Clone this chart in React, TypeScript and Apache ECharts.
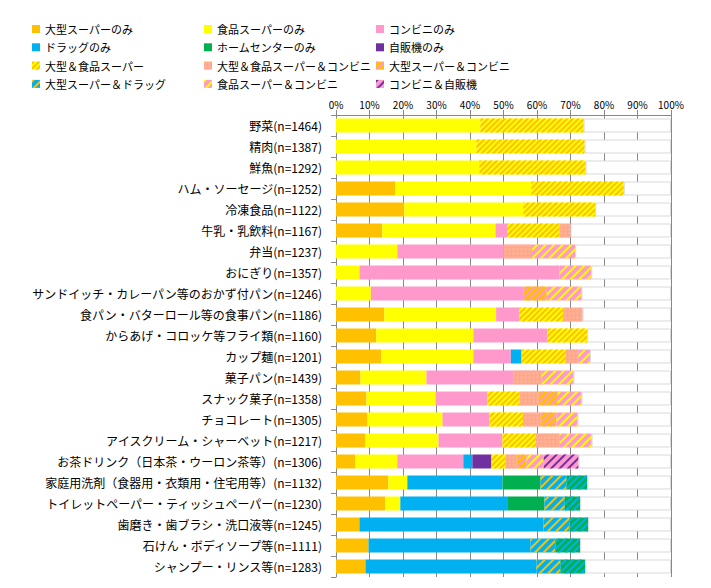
import React, { useEffect, useRef } from "react";
import * as echarts from "echarts";

const categories = [
  "野菜(n=1464)",
  "精肉(n=1387)",
  "鮮魚(n=1292)",
  "ハム・ソーセージ(n=1252)",
  "冷凍食品(n=1122)",
  "牛乳・乳飲料(n=1167)",
  "弁当(n=1237)",
  "おにぎり(n=1357)",
  "サンドイッチ・カレーパン等のおかず付パン(n=1246)",
  "食パン・バターロール等の食事パン(n=1186)",
  "からあげ・コロッケ等フライ類(n=1160)",
  "カップ麺(n=1201)",
  "菓子パン(n=1439)",
  "スナック菓子(n=1358)",
  "チョコレート(n=1305)",
  "アイスクリーム・シャーベット(n=1217)",
  "お茶ドリンク（日本茶・ウーロン茶等）(n=1306)",
  "家庭用洗剤（食器用・衣類用・住宅用等）(n=1132)",
  "トイレットペーパー・ティッシュペーパー(n=1230)",
  "歯磨き・歯ブラシ・洗口液等(n=1245)",
  "石けん・ボディソープ等(n=1111)",
  "シャンプー・リンス等(n=1283)",
];

// values in % per category (top to bottom)
const largeOnly = [0, 0, 0, 17.7, 20.4, 13.8, 0, 0, 0, 14.4, 12.0, 13.5, 7.3, 9.1, 9.4, 8.8, 5.8, 15.6, 14.7, 7.0, 9.7, 8.8];
const foodOnly = [43.1, 41.9, 42.8, 40.6, 35.5, 33.8, 18.3, 7.0, 10.4, 33.4, 29.0, 27.5, 19.7, 20.6, 22.4, 21.8, 12.5, 5.7, 4.5, 0, 0, 0];
const convOnly = [0, 0, 0, 0, 0, 3.5, 31.6, 59.7, 45.5, 6.9, 22.1, 11.2, 25.9, 15.5, 14.0, 19.1, 19.7, 0, 0, 0, 0, 0];
const drugOnly = [0, 0, 0, 0, 0, 0, 0, 0, 0, 0, 0, 3.2, 0, 0, 0, 0, 2.7, 28.4, 31.9, 54.9, 48.3, 51.0];
const homeOnly = [0, 0, 0, 0, 0, 0, 0, 0, 0, 0, 0, 0, 0, 0, 0, 0, 0, 11.3, 11.1, 0, 0, 0];
const vendOnly = [0, 0, 0, 0, 0, 0, 0, 0, 0, 0, 0, 0, 0, 0, 0, 0, 5.7, 0, 0, 0, 0, 0];
const largeFood = [30.8, 32.3, 31.7, 27.6, 21.5, 15.6, 0, 0, 0, 13.1, 11.9, 13.2, 0, 9.6, 10.0, 10.0, 4.2, 0, 0, 0, 0, 0];
const largeFoodConv = [0, 0, 0, 0, 0, 3.3, 8.6, 0, 0, 5.8, 0, 3.7, 8.4, 5.7, 5.3, 7.1, 3.3, 0, 0, 0, 0, 0];
const largeConv = [0, 0, 0, 0, 0, 0, 0, 0, 7.0, 0, 0, 0, 0, 5.7, 4.7, 0, 3.0, 0, 0, 0, 0, 0];
const largeDrug = [0, 0, 0, 0, 0, 0, 0, 0, 0, 0, 0, 0, 0, 0, 0, 0, 0, 7.8, 6.1, 7.8, 7.5, 7.2];
const foodConv = [0, 0, 0, 0, 0, 0, 12.9, 9.5, 10.4, 0, 0, 3.5, 9.6, 7.1, 6.3, 9.5, 5.1, 0, 0, 0, 0, 0];
const convVend = [0, 0, 0, 0, 0, 0, 0, 0, 0, 0, 0, 0, 0, 0, 0, 0, 10.4, 0, 0, 0, 0, 0];
const drugHome = [0, 0, 0, 0, 0, 0, 0, 0, 0, 0, 0, 0, 0, 0, 0, 0, 0, 6.2, 4.6, 5.6, 7.4, 7.4];

const xTicks = [0, 10, 20, 30, 40, 50, 60, 70, 80, 90, 100];

const ORANGE = "#FFC000";
const YELLOW = "#FFFF00";
const PINK = "#FF99CC";
const BLUE = "#00B0F0";
const GREEN = "#00B050";
const PURPLE = "#7030A0";

const FONT = "'Noto Sans CJK JP', 'Noto Sans', sans-serif";

const stripe = (color: string, w: number, gap: number) => ({
  symbol: "rect",
  symbolSize: 1,
  color,
  dashArrayX: [1, 0],
  dashArrayY: [w, gap],
  rotation: -Math.PI / 4,
});

const checker = (color: string) => ({
  symbol: "circle",
  symbolSize: 1,
  color,
  dashArrayX: [3, 1],
  dashArrayY: [3, 1],
  rotation: 0,
});

export default function App() {
  const ref = useRef<HTMLDivElement>(null);

  useEffect(() => {
    if (!ref.current) return;
    const chart = echarts.init(ref.current, undefined, { renderer: "svg" });

    const defs: { name: string; data: number[]; color: string; decal?: any }[] = [
      { name: "大型スーパーのみ", data: largeOnly, color: ORANGE },
      { name: "食品スーパーのみ", data: foodOnly, color: YELLOW },
      { name: "コンビニのみ", data: convOnly, color: PINK },
      { name: "ドラッグのみ", data: drugOnly, color: BLUE },
      { name: "ホームセンターのみ", data: homeOnly, color: GREEN },
      { name: "自販機のみ", data: vendOnly, color: PURPLE },
      { name: "大型＆食品スーパー", data: largeFood, color: YELLOW, decal: stripe(ORANGE, 1.5, 1.5) },
      { name: "大型＆食品スーパー＆コンビニ", data: largeFoodConv, color: PINK, decal: checker("#FFC050") },
      { name: "大型スーパー＆コンビニ", data: largeConv, color: ORANGE, decal: stripe(PINK, 1.5, 2.5) },
      { name: "大型スーパー＆ドラッグ", data: largeDrug, color: BLUE, decal: stripe(ORANGE, 2, 3.5) },
      { name: "食品スーパー＆コンビニ", data: foodConv, color: PINK, decal: stripe(YELLOW, 2, 4) },
      { name: "コンビニ＆自販機", data: convVend, color: PINK, decal: stripe(PURPLE, 2, 4) },
      { name: "ドラッグ＆ホームセンター", data: drugHome, color: GREEN, decal: stripe(BLUE, 2, 3) },
    ];

    const remainder = categories.map((_, i) =>
      Math.max(0, +(100 - defs.reduce((s, d) => s + d.data[i], 0)).toFixed(1))
    );

    const series: any[] = defs.map((d) => ({
      name: d.name,
      type: "bar",
      stack: "total",
      barWidth: 14,
      data: d.data,
      itemStyle: d.decal ? { color: d.color, decal: d.decal } : { color: d.color },
      emphasis: { disabled: true },
    }));
    series.push({
      name: "その他",
      type: "bar",
      stack: "total",
      barWidth: 14,
      data: remainder,
      itemStyle: { color: "#ffffff", borderColor: "#d9d9d9", borderWidth: 1 },
      emphasis: { disabled: true },
      silent: true,
    });

    const legendCommon = {
      orient: "vertical",
      itemWidth: 8,
      itemHeight: 8,
      itemGap: 5.3,
      icon: "rect",
      selectedMode: false,
      textStyle: { fontSize: 11, fontFamily: FONT, color: "#000", lineHeight: 13 },
    };

    chart.setOption({
      animation: false,
      backgroundColor: "#ffffff",
      legend: [
        { ...legendCommon, left: 27, top: 17.5, data: ["大型スーパーのみ", "ドラッグのみ", "大型＆食品スーパー", "大型スーパー＆ドラッグ"] },
        { ...legendCommon, left: 199, top: 17.5, data: ["食品スーパーのみ", "ホームセンターのみ", "大型＆食品スーパー＆コンビニ", "食品スーパー＆コンビニ"] },
        { ...legendCommon, left: 371, top: 17.5, data: ["コンビニのみ", "自販機のみ", "大型スーパー＆コンビニ", "コンビニ＆自販機"] },
      ],
      grid: { left: 336, right: 40, top: 115, height: 462, containLabel: false },
      xAxis: {
        type: "value",
        position: "top",
        min: xTicks[0],
        max: xTicks[xTicks.length - 1],
        interval: 10,
        axisLine: { show: true, lineStyle: { color: "#888888", width: 1 } },
        axisTick: { show: true, length: 5, lineStyle: { color: "#888888" } },
        splitLine: { show: true, lineStyle: { color: "#888888", width: 1 } },
        axisLabel: {
          formatter: "{value}%",
          fontSize: 10,
          fontFamily: FONT,
          color: "#000",
          margin: 6,
        },
      },
      yAxis: {
        type: "category",
        inverse: true,
        data: categories,
        axisLine: { show: true, lineStyle: { color: "#888888", width: 1 } },
        axisTick: { show: true, length: 5, lineStyle: { color: "#888888" } },
        axisLabel: { fontSize: 12, fontFamily: FONT, color: "#000", margin: 14, interval: 0 },
      },
      series,
    });

    return () => chart.dispose();
  }, []);

  return (
    <div
      ref={ref}
      style={{ position: "absolute", left: 0, top: 0, width: 711, height: 588 }}
    />
  );
}
